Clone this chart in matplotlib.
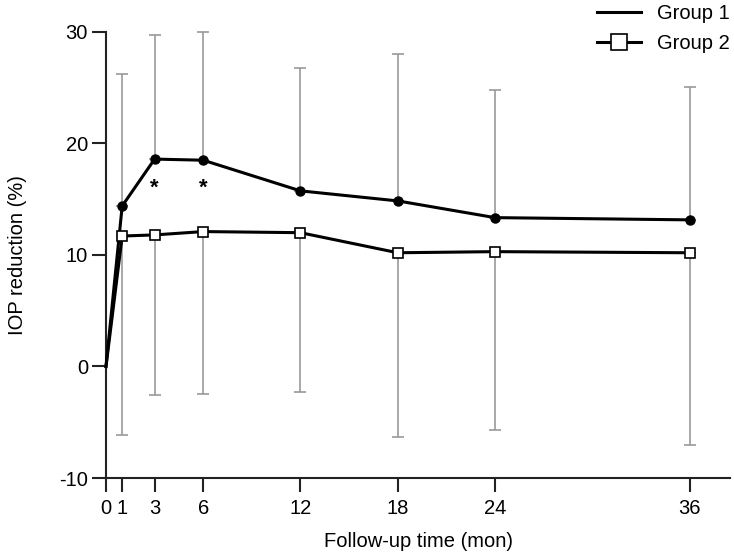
import matplotlib
matplotlib.use("Agg")
import matplotlib.pyplot as plt
import numpy as np

plt.rcParams['font.family'] = ['Liberation Sans', 'DejaVu Sans']
plt.rcParams['axes.unicode_minus'] = False

months = [0, 1, 3, 6, 12, 18, 24, 36]
group1 = [0, 14.4, 18.6, 18.5, 15.75, 14.85, 13.35, 13.15]
group2 = [0, 11.7, 11.8, 12.1, 12.0, 10.2, 10.3, 10.2]
group1_upper = [None, 26.25, 29.75, 30.0, 26.8, 28.0, 24.8, 25.1]
group2_lower = [None, -6.1, -2.55, -2.45, -2.25, -6.3, -5.7, -7.05]
star_months = [3, 6]
xticks = [0, 1, 3, 6, 12, 18, 24, 36]
yticks = [-10, 0, 10, 20, 30]

fs = 14.5
fig = plt.figure(figsize=(7.34, 5.59), dpi=100)
ax = fig.add_axes([0.1444, 0.1449, 0.8502, 0.7979])

# one-sided grey bars: group 1 goes up, group 2 goes down
ex = np.array(months[1:])
g1 = np.array(group1[1:])
g2 = np.array(group2[1:])
up = np.array(group1_upper[1:]) - g1
lo = g2 - np.array(group2_lower[1:])
ax.errorbar(ex, g1, yerr=[np.zeros_like(up), up], fmt='none', ecolor='#9a9a9a',
            elinewidth=1.2, capsize=4, capthick=1.2, clip_on=False, zorder=1)
ax.errorbar(ex, g2, yerr=[lo, np.zeros_like(lo)], fmt='none', ecolor='#9a9a9a',
            elinewidth=1.2, capsize=4, capthick=1.2, clip_on=False, zorder=1)

ax.plot(months, group1, color='black', lw=2.2, zorder=3, clip_on=False)
ax.plot(months[1:], group1[1:], 'o', color='black', ms=6.5, zorder=4, clip_on=False)
ax.plot(months, group2, color='black', lw=2.2, zorder=3, clip_on=False)
ax.plot(months[1:], group2[1:], 's', mfc='white', mec='black', mew=1.2, ms=7.5,
        zorder=4, clip_on=False)

for m in star_months:
    ax.text(m, 16.0, '*', ha='center', va='center', fontsize=16, fontweight='bold')

ax.set_xlim(0, 38.5)
ax.set_ylim(-10, 30)
ax.set_xticks(xticks)
ax.set_yticks(yticks)
ax.tick_params(direction='out', length=10, width=1.5, labelsize=fs, color='#222222')
ax.tick_params(axis='x', pad=5)
ax.tick_params(axis='y', pad=3)
for s in ['top', 'right']:
    ax.spines[s].set_visible(False)
for s in ['left', 'bottom']:
    ax.spines[s].set_linewidth(1.5)
    ax.spines[s].set_color('#222222')

ax.set_xlabel('Follow-up time (mon)', fontsize=fs, labelpad=10)
ax.set_ylabel('IOP reduction (%)', fontsize=fs)
ax.yaxis.set_label_coords(-0.127, 0.5)

h1, = ax.plot([], [], color='black', lw=2.2)
h2, = ax.plot([], [], color='black', lw=2.2, marker='s', mfc='white', mec='black',
              mew=1.2, ms=11)
fig.legend([h1, h2], ['Group 1', 'Group 2'], loc='upper right',
           bbox_to_anchor=(1.019, 1.025), frameon=False, fontsize=fs,
           handlelength=2.2, handletextpad=0.8, labelspacing=0.55)

fig.savefig('out.png', dpi=100)
